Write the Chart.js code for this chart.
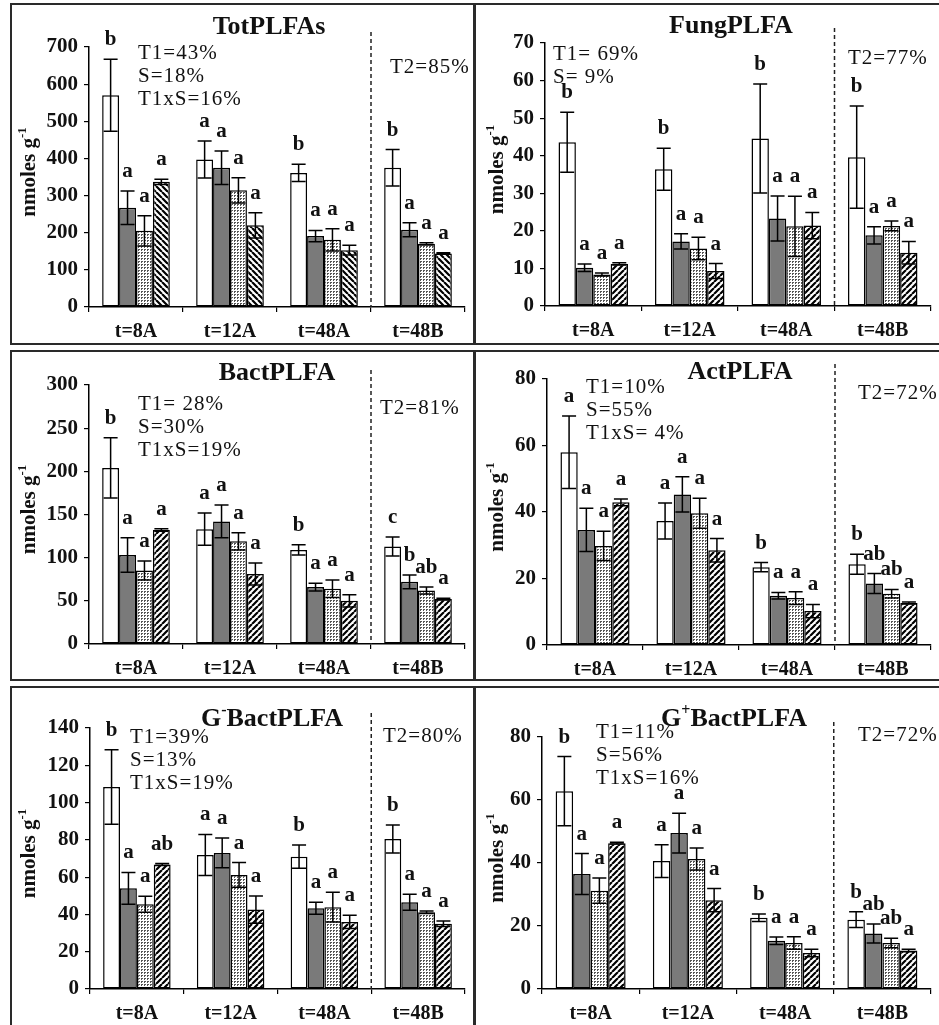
<!DOCTYPE html>
<html>
<head>
<meta charset="utf-8">
<title>PLFA panels</title>
<script src="https://cdn.jsdelivr.net/npm/chart.js@4.4.1/dist/chart.umd.min.js"></script>
<style>
  html, body { margin: 0; padding: 0; background: #fff; }
  #page { position: relative; width: 939px; height: 1025px; overflow: hidden; }
  .box { position: absolute; border: 2px solid #2a2a2a; box-sizing: border-box; }
  canvas { position: absolute; left: 0; top: 0; pointer-events: none; }
</style>
</head>
<body>
<div id="page">
  <div class="box" style="left:10px; top:3px; width:466px; height:342px"></div>
  <div class="box" style="left:473px; top:3px; width:475px; height:342px"></div>
  <div class="box" style="left:10px; top:350px; width:466px; height:331px"></div>
  <div class="box" style="left:473px; top:350px; width:475px; height:331px"></div>
  <div class="box" style="left:10px; top:686px; width:466px; height:345px"></div>
  <div class="box" style="left:473px; top:686px; width:475px; height:345px"></div>
</div>
<script>
const categories = ['t=8A', 't=12A', 't=48A', 't=48B'];

// each panel: rows = open, grey, dotted, hatched bars; columns = categories
const totMeans = [[570, 397, 361, 375], [267, 375, 191, 208], [205, 314, 181, 170], [337, 220, 153, 144]];
const totErrors = [[97, 50, 23, 49], [45, 45, 15, 19], [41, 34, 30, 3], [7, 34, 13, 2]];
const totLetters = [['b', 'a', 'b', 'b'], ['a', 'a', 'a', 'a'], ['a', 'a', 'a', 'a'], ['a', 'a', 'a', 'a']];
const totNotes = ['T1=43%', 'S=18%', 'T1xS=16%'];

const fungMeans = [[43.6, 36.4, 44.6, 39.6], [10.2, 17.2, 23.3, 18.8], [8.4, 15.3, 21.2, 21.3], [11.2, 9.3, 21.4, 14.2]];
const fungErrors = [[8, 5.6, 14.5, 13.6], [1, 2, 6, 2.3], [0.4, 3, 8, 1.3], [0.3, 2, 3.5, 3]];
const fungLetters = [['b', 'b', 'b', 'b'], ['a', 'a', 'a', 'a'], ['a', 'a', 'a', 'a'], ['a', 'a', 'a', 'a']];
const fungNotes = ['T1= 69%', 'S= 9%'];

const bactMeans = [[204, 133, 109, 113], [103, 142, 66, 72], [85, 119, 64, 62], [132, 81, 50, 52]];
const bactErrors = [[35, 18.7, 6, 11], [20, 19, 4.5, 8], [11, 10, 10, 4], [1.5, 12.7, 7, 1]];
const bactLetters = [['b', 'a', 'b', 'c'], ['a', 'a', 'a', 'b'], ['a', 'a', 'a', 'ab'], ['a', 'a', 'a', 'a']];
const bactNotes = ['T1= 28%', 'S=30%', 'T1xS=19%'];

const actMeans = [[58, 37.3, 23.4, 24.3], [34.6, 45.3, 14.8, 18.5], [29.8, 39.6, 14.1, 15.4], [42.9, 28.5, 10.2, 12.6]];
const actErrors = [[10.9, 5.4, 1.4, 3], [6.5, 5.3, 1, 3], [4.4, 4.5, 1.9, 1.3], [1, 3.5, 2, 0.3]];
const actLetters = [['a', 'a', 'b', 'b'], ['a', 'a', 'a', 'ab'], ['a', 'a', 'a', 'ab'], ['a', 'a', 'a', 'a']];
const actNotes = ['T1=10%', 'S=55%', 'T1xS= 4%'];

const gnegMeans = [[108.4, 71.9, 71, 80.5], [54, 73, 43.3, 46.5], [45.5, 61.2, 43.9, 41.2], [66.8, 42.6, 36, 35]];
const gnegErrors = [[20, 11, 6.2, 7.5], [8.5, 8, 3.2, 4.3], [4.3, 6.6, 8, 0.7], [0.5, 7.3, 3.6, 1.5]];
const gnegLetters = [['b', 'a', 'b', 'b'], ['a', 'a', 'a', 'a'], ['a', 'a', 'a', 'a'], ['ab', 'a', 'a', 'a']];
const gnegNotes = ['T1=39%', 'S=13%', 'T1xS=19%'];

const gposMeans = [[62.8, 40.6, 22.6, 22], [36.5, 49.5, 15.3, 17.6], [31.2, 41.3, 14.6, 14.6], [46.3, 28.2, 11.4, 12.2]];
const gposErrors = [[11, 5.2, 1.2, 2.5], [6.5, 6.3, 1.2, 3], [4, 3.5, 2, 1.5], [0.3, 3.7, 1.2, 0.4]];
const gposLetters = [['b', 'a', 'b', 'b'], ['a', 'a', 'a', 'ab'], ['a', 'a', 'a', 'ab'], ['a', 'a', 'a', 'a']];
const gposNotes = ['T1=11%', 'S=56%', 'T1xS=16%'];

const t2Notes = ['T2=85%', 'T2=77%', 'T2=81%', 'T2=72%', 'T2=80%', 'T2=72%'];

const SERIF = '"Liberation Serif", "Times New Roman", serif';

function hatch(dir) {
  const c = document.createElement('canvas');
  c.width = c.height = 6;
  const g = c.getContext('2d');
  g.fillStyle = '#fff';
  g.fillRect(0, 0, 6, 6);
  g.strokeStyle = '#000';
  g.lineWidth = 2.2;
  g.beginPath();
  for (const o of [-6, 0, 6]) {
    if (dir === '/') { g.moveTo(o, 6); g.lineTo(o + 6, 0); }
    else { g.moveTo(o, 0); g.lineTo(o + 6, 6); }
  }
  g.stroke();
  return g.createPattern(c, 'repeat');
}

function dots() {
  const c = document.createElement('canvas');
  c.width = c.height = 3;
  const g = c.getContext('2d');
  g.fillStyle = '#fff';
  g.fillRect(0, 0, 3, 3);
  g.fillStyle = '#555';
  g.fillRect(0, 0, 1, 1);
  g.fillRect(1, 0, 1, 1);
  g.fillRect(0, 1, 1, 1);
  return g.createPattern(c, 'repeat');
}

// text pieces: even index = normal, odd index = superscript
function richText(ctx, pieces, x, y, size) {
  const big = 'bold ' + size + 'px ' + SERIF;
  const small = 'bold ' + Math.round(size * 0.62) + 'px ' + SERIF;
  let total = 0;
  pieces.forEach((p, i) => { ctx.font = i % 2 ? small : big; total += ctx.measureText(p).width; });
  let cx = x - total / 2;
  ctx.textAlign = 'left';
  pieces.forEach((p, i) => {
    ctx.font = i % 2 ? small : big;
    ctx.fillText(p, cx, i % 2 ? y - size * 0.42 : y);
    cx += ctx.measureText(p).width;
  });
}

const decorations = {
  id: 'decorations',
  afterDatasetsDraw(chart, args, opts) {
    const ctx = chart.ctx;
    const ys = chart.scales.y;
    ctx.save();
    ctx.strokeStyle = '#000';
    ctx.lineWidth = 1.5;
    ctx.fillStyle = '#111';
    ctx.font = 'bold 21px ' + SERIF;
    ctx.textAlign = 'center';
    chart.data.datasets.forEach((ds, i) => {
      chart.getDatasetMeta(i).data.forEach((bar, j) => {
        const m = ds.data[j];
        const e = opts.errors[i][j];
        const top = ys.getPixelForValue(m + e);
        const bot = ys.getPixelForValue(m - e);
        ctx.beginPath();
        ctx.moveTo(bar.x, top); ctx.lineTo(bar.x, bot);
        ctx.moveTo(bar.x - 7, top); ctx.lineTo(bar.x + 7, top);
        ctx.moveTo(bar.x - 7, bot); ctx.lineTo(bar.x + 7, bot);
        ctx.stroke();
        ctx.fillText(opts.letters[i][j], bar.x, top - 14);
      });
    });
    ctx.restore();
  },
  afterDraw(chart, args, opts) {
    const ctx = chart.ctx;
    const area = chart.chartArea;
    const xs = chart.scales.x;
    ctx.save();
    ctx.fillStyle = '#111';
    ctx.textBaseline = 'alphabetic';

    // title
    richText(ctx, opts.title, opts.titleXY[0], opts.titleXY[1] + 9, 26);

    // y axis title
    ctx.save();
    ctx.translate(opts.yTitleX + 7, (area.top + area.bottom) / 2 - 5);
    ctx.rotate(-Math.PI / 2);
    richText(ctx, ['nmoles g', '-1'], 0, 0, 21);
    ctx.restore();

    // effect sizes
    ctx.font = '21px ' + SERIF;
    ctx.letterSpacing = '1px';
    ctx.textAlign = 'left';
    opts.notes.forEach((n, k) => ctx.fillText(n, opts.notesXY[0], opts.notesXY[1] + k * 23));
    ctx.fillText(opts.t2, opts.t2XY[0], opts.t2XY[1]);

    // dashed separator between t=48A and t=48B
    const xd = (xs.getPixelForValue(2) + xs.getPixelForValue(3)) / 2;
    ctx.strokeStyle = '#222';
    ctx.lineWidth = 1.5;
    ctx.setLineDash([4, 3]);
    ctx.beginPath();
    ctx.moveTo(xd, area.top - 15);
    ctx.lineTo(xd, area.bottom);
    ctx.stroke();
    ctx.restore();
  }
};

const panels = [
  { title: ['TotPLFAs'], means: totMeans, errors: totErrors, letters: totLetters, notes: totNotes, t2: t2Notes[0],
    max: 700, step: 100, dir: '\\', area: [89, 47, 465, 307], titleXY: [269, 25], notesXY: [138, 59], t2XY: [390, 73], yTitleX: 28 },
  { title: ['FungPLFA'], means: fungMeans, errors: fungErrors, letters: fungLetters, notes: fungNotes, t2: t2Notes[1],
    max: 70, step: 10, dir: '/', area: [545, 43, 931, 306], titleXY: [731, 24], notesXY: [553, 60], t2XY: [848, 64], yTitleX: 496 },
  { title: ['BactPLFA'], means: bactMeans, errors: bactErrors, letters: bactLetters, notes: bactNotes, t2: t2Notes[2],
    max: 300, step: 50, dir: '/', area: [89, 385, 465, 644], titleXY: [277, 371], notesXY: [138, 410], t2XY: [380, 414], yTitleX: 28 },
  { title: ['ActPLFA'], means: actMeans, errors: actErrors, letters: actLetters, notes: actNotes, t2: t2Notes[3],
    max: 80, step: 20, dir: '/', area: [547, 379, 931, 645], titleXY: [740, 370], notesXY: [586, 393], t2XY: [858, 399], yTitleX: 496 },
  { title: ['G', '-', 'BactPLFA'], means: gnegMeans, errors: gnegErrors, letters: gnegLetters, notes: gnegNotes, t2: t2Notes[4],
    max: 140, step: 20, dir: '/', area: [90, 728, 465, 989], titleXY: [272, 717], notesXY: [130, 743], t2XY: [383, 742], yTitleX: 28 },
  { title: ['G', '+', 'BactPLFA'], means: gposMeans, errors: gposErrors, letters: gposLetters, notes: gposNotes, t2: t2Notes[5],
    max: 80, step: 20, dir: '/', area: [542, 737, 931, 989], titleXY: [734, 717], notesXY: [596, 738], t2XY: [858, 741], yTitleX: 496 },
];

const W = 939, H = 1025, Y_W = 60, X_H = 40;
const yTickFont = { family: SERIF, size: 21, weight: 'bold' };
const xTickFont = { family: SERIF, size: 20, weight: 'bold' };

panels.forEach((p) => {
  const canvas = document.createElement('canvas');
  canvas.width = W;
  canvas.height = H;
  document.getElementById('page').appendChild(canvas);

  const fills = ['#ffffff', '#7a7a7a', dots(), hatch(p.dir)];
  const [l, t, r, b] = p.area;

  new Chart(canvas, {
    type: 'bar',
    data: {
      labels: categories,
      datasets: p.means.map((m, i) => ({
        data: m,
        backgroundColor: fills[i],
        borderColor: '#000',
        borderWidth: 1.5,
        borderSkipped: false,
        categoryPercentage: 0.72,
        barPercentage: 1.0
      }))
    },
    options: {
      responsive: false,
      animation: false,
      devicePixelRatio: 1,
      layout: { padding: { left: l - Y_W, top: t, right: W - r, bottom: H - b - X_H } },
      scales: {
        x: {
          grid: { drawOnChartArea: false, drawTicks: true, tickLength: 5, color: '#000', lineWidth: 1.2 },
          border: { display: true, color: '#000', width: 1.5 },
          ticks: { font: xTickFont, color: '#111', padding: 8, maxRotation: 0 },
          afterFit: (s) => { s.height = X_H; }
        },
        y: {
          min: 0,
          max: p.max,
          grid: { drawOnChartArea: false, drawTicks: true, tickLength: 5, color: '#000', lineWidth: 1.2 },
          border: { display: true, color: '#000', width: 1.5 },
          ticks: { stepSize: p.step, font: yTickFont, color: '#111', padding: 6 },
          afterFit: (s) => { s.width = Y_W; }
        }
      },
      plugins: {
        legend: { display: false },
        tooltip: { enabled: false },
        decorations: p
      }
    },
    plugins: [decorations]
  });
});
</script>
</body>
</html>
